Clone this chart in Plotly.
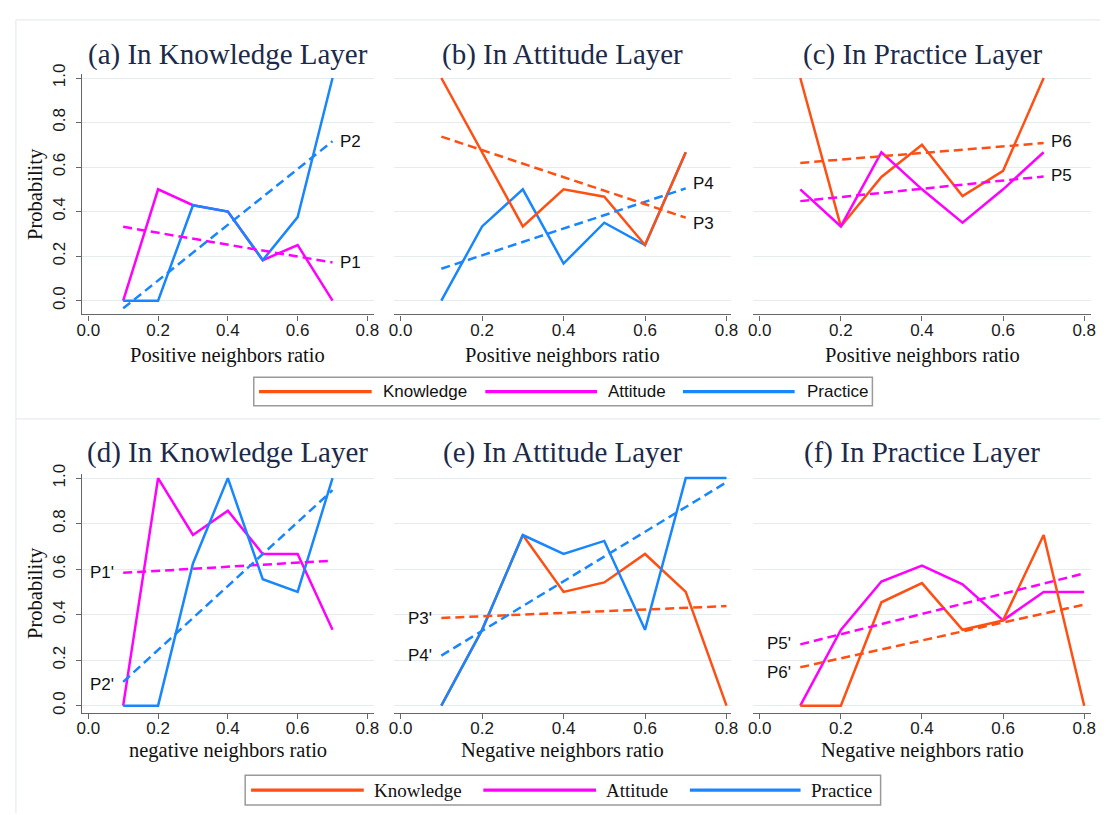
import numpy as np
import plotly.graph_objects as go

W, H = 1107, 815

# ---- data -------------------------------------------------------------
ratio_7 = [0.1, 0.2, 0.3, 0.4, 0.5, 0.6, 0.7]
ratio_8 = [0.1, 0.2, 0.3, 0.4, 0.5, 0.6, 0.7, 0.8]

# (a) knowledge layer, positive neighbours
att_a = [0.0, 0.5, 0.4286, 0.4, 0.1818, 0.25, 0.0]
prac_a = [0.0, 0.0, 0.4286, 0.4, 0.1818, 0.375, 1.0]
# (b) attitude layer, positive neighbours
know_b = [1.0, 0.6667, 0.3333, 0.5, 0.4667, 0.25, 0.6667]
prac_b = [0.0, 0.3333, 0.5, 0.1667, 0.35, 0.25, 0.6667]
# (c) practice layer, positive neighbours
know_c = [1.0, 0.3333, 0.5556, 0.7, 0.47, 0.5833, 1.0]
att_c = [0.5, 0.3333, 0.6667, 0.5, 0.35, 0.5, 0.6667]
# (d) knowledge layer, negative neighbours
att_d = [0.0, 1.0, 0.75, 0.8571, 0.6667, 0.6667, 0.3333]
prac_d = [0.0, 0.0, 0.625, 1.0, 0.5556, 0.5, 1.0]
# (e) attitude layer, negative neighbours
know_e = [0.0, 0.3333, 0.75, 0.5, 0.5417, 0.6667, 0.5, 0.0]
prac_e = [0.0, 0.3333, 0.75, 0.6667, 0.724, 0.3333, 1.0, 1.0]
# (f) practice layer, negative neighbours
know_f = [0.0, 0.0, 0.4545, 0.5385, 0.3333, 0.375, 0.75, 0.0]
att_f = [0.0, 0.3333, 0.5455, 0.6154, 0.5333, 0.375, 0.5, 0.5]

x_ticks = [0.0, 0.2, 0.4, 0.6, 0.8]
y_ticks = [0.0, 0.2, 0.4, 0.6, 0.8, 1.0]
legend_names = ["Knowledge", "Attitude", "Practice"]

# ---- styling ----------------------------------------------------------
ORANGE = "#FF4F12"
MAGENTA = "#FF00FF"
BLUE = "#1886FF"
COLORS = {"Knowledge": ORANGE, "Attitude": MAGENTA, "Practice": BLUE}
SERIF = "Liberation Serif"
SANS = "Liberation Sans"
TITLE_COLOR = "#1c2a4a"
GRID = "#e4ecee"
AXIS = "#666666"
DASH = "9px,5px"


def px_x(p):
    return p / W


def px_y(p):
    return 1 - p / H


# each panel: title, x label, pixel box, value ranges, series in drawing
# order, and fit-line labels (name -> (label, yshift))
panels = [
    dict(title="(a) In Knowledge Layer", xlab="Positive neighbors ratio",
         box=(77, 372, 309, 64.5), xr=(-0.0178, 0.8178), yr=(-0.062, 1.02),
         x=ratio_7, series=[("Attitude", att_a), ("Practice", prac_a)],
         fits={"Attitude": ("P1", 0), "Practice": ("P2", 0)}, side="right", yaxis=True),
    dict(title="(b) In Attitude Layer", xlab="Positive neighbors ratio",
         box=(393, 734, 309, 64.5), xr=(-0.0153, 0.812), yr=(-0.062, 1.02),
         x=ratio_7, series=[("Practice", prac_b), ("Knowledge", know_b)],
         fits={"Knowledge": ("P3", -6), "Practice": ("P4", 5)}, side="right", yaxis=False),
    dict(title="(c) In Practice Layer", xlab="Positive neighbors ratio",
         box=(756, 1098, 309, 64.5), xr=(-0.0163, 0.817), yr=(-0.062, 1.02),
         x=ratio_7, series=[("Knowledge", know_c), ("Attitude", att_c)],
         fits={"Attitude": ("P5", 1), "Knowledge": ("P6", 2)}, side="right", yaxis=False),
    dict(title="(d) In Knowledge Layer", xlab="negative neighbors ratio",
         box=(77, 372, 713, 470.5), xr=(-0.0178, 0.8178), yr=(-0.03, 1.02),
         x=ratio_7, series=[("Attitude", att_d), ("Practice", prac_d)],
         fits={"Attitude": ("P1'", 0), "Practice": ("P2'", -3)}, side="left", yaxis=True),
    dict(title="(e) In Attitude Layer", xlab="Negative neighbors ratio",
         box=(393, 734, 713, 470.5), xr=(-0.0153, 0.812), yr=(-0.03, 1.02),
         x=ratio_8, series=[("Knowledge", know_e), ("Practice", prac_e)],
         fits={"Knowledge": ("P3'", -1), "Practice": ("P4'", 0)}, side="left", yaxis=False),
    dict(title="(f) In Practice Layer", xlab="Negative neighbors ratio",
         box=(756, 1098, 713, 470.5), xr=(-0.0163, 0.817), yr=(-0.03, 1.02),
         x=ratio_8, series=[("Attitude", att_f), ("Knowledge", know_f)],
         fits={"Attitude": ("P5'", 1), "Knowledge": ("P6'", -5)}, side="left", yaxis=False),
]

fig = go.Figure()
annotations = []
shapes = []
layout = {}

for i, p in enumerate(panels, start=1):
    xa, ya = f"x{i}", f"y{i}"
    x0, x1, yb, yt = p["box"]
    xs = np.array(p["x"])

    # observed probabilities
    for name, ys in p["series"]:
        fig.add_trace(go.Scatter(
            x=xs, y=ys, mode="lines", xaxis=xa, yaxis=ya, showlegend=False,
            line=dict(color=COLORS[name], width=2.5), name=name,
            hoverinfo="skip"))

    # least-squares trend of each series, dashed
    for name, ys in p["series"]:
        slope, icpt = np.polyfit(xs, np.array(ys), 1)
        fx = np.array([xs[0], xs[-1]])
        fy = slope * fx + icpt
        fig.add_trace(go.Scatter(
            x=fx, y=fy, mode="lines", xaxis=xa, yaxis=ya, showlegend=False,
            line=dict(color=COLORS[name], width=2.5, dash=DASH),
            hoverinfo="skip"))
        label, ysh = p["fits"][name]
        if p["side"] == "right":
            annotations.append(dict(
                x=fx[-1], y=fy[-1], xref=xa, yref=ya, text=label,
                showarrow=False, xanchor="left", yanchor="middle",
                xshift=5, yshift=ysh,
                font=dict(family=SANS, size=17, color="#111111")))
        else:
            annotations.append(dict(
                x=fx[0], y=fy[0], xref=xa, yref=ya, text=label,
                showarrow=False, xanchor="right", yanchor="middle",
                xshift=-7, yshift=ysh,
                font=dict(family=SANS, size=17, color="#111111")))

    key = "" if i == 1 else str(i)
    layout[f"xaxis{key}"] = dict(
        domain=[px_x(x0), px_x(x1)], range=list(p["xr"]), anchor=ya,
        tickvals=x_ticks, ticktext=[f"{v:.1f}" for v in x_ticks],
        showgrid=False, zeroline=False, showline=True, linecolor=AXIS,
        linewidth=1.2, ticks="outside", ticklen=5, tickcolor=AXIS,
        tickwidth=1.2, ticklabelstandoff=-5,
        tickfont=dict(family=SANS, size=17, color="#1a1a1a"))
    layout[f"yaxis{key}"] = dict(
        domain=[px_y(yb), px_y(yt)], range=list(p["yr"]), anchor=xa,
        tickvals=y_ticks, ticktext=[f"{v:.1f}" for v in y_ticks],
        showgrid=True, gridcolor=GRID, gridwidth=1.2, zeroline=False,
        showline=p["yaxis"], linecolor=AXIS, linewidth=1.2,
        ticks="outside" if p["yaxis"] else "", ticklen=5, tickcolor=AXIS,
        tickwidth=1.2, showticklabels=p["yaxis"], tickangle=-90,
        ticklabelstandoff=4,
        tickfont=dict(family=SANS, size=17, color="#1a1a1a"))

    cx = (x0 + x1) / 2
    top_row = i <= 3
    annotations.append(dict(
        x=px_x(cx), y=px_y(45 if top_row else 449), xref="paper", yref="paper",
        text=p["title"], showarrow=False, xanchor="center", yanchor="middle",
        font=dict(family=SERIF, size=29, color=TITLE_COLOR)))
    annotations.append(dict(
        x=px_x(cx), y=px_y(351 if top_row else 752), xref="paper", yref="paper",
        text=p["xlab"], showarrow=False, xanchor="center", yanchor="middle",
        font=dict(family=SERIF, size=20.5, color="#111111")))
    if p["yaxis"]:
        annotations.append(dict(
            x=px_x(30), y=px_y(187 if top_row else 592), xref="paper", yref="paper",
            text="Probability", showarrow=False, textangle=-90,
            xanchor="center", yanchor="middle",
            font=dict(family=SERIF, size=20.5, color="#111111")))

# ---- legends (one under each row) ------------------------------------
legend_rows = [
    dict(box=(250.7, 372.7, 876.7, 401.7), ly=387.3,
         lines=[(256, 370), (485, 598), (685, 798)], tx=[379, 606.7, 808],
         font=dict(family=SANS, size=17, color="#111111")),
    dict(box=(242, 776.7, 885, 807), ly=791.7,
         lines=[(248, 362), (483, 597), (692, 804)], tx=[370, 605, 813],
         font=dict(family=SERIF, size=19, color="#111111")),
]
for lg in legend_rows:
    bx0, by0, bx1, by1 = lg["box"]
    shapes.append(dict(type="rect", xref="paper", yref="paper",
                       x0=px_x(bx0), x1=px_x(bx1), y0=px_y(by0), y1=px_y(by1),
                       line=dict(color="#9a9a9a", width=1.5), fillcolor="white"))
    for name, (lx0, lx1), tx in zip(legend_names, lg["lines"], lg["tx"]):
        shapes.append(dict(type="line", xref="paper", yref="paper",
                           x0=px_x(lx0), x1=px_x(lx1), y0=px_y(lg["ly"]), y1=px_y(lg["ly"]),
                           line=dict(color=COLORS[name], width=3.2)))
        annotations.append(dict(
            x=px_x(tx), y=px_y(lg["ly"]), xref="paper", yref="paper", text=name,
            showarrow=False, xanchor="left", yanchor="middle", font=lg["font"]))

# faint frames around the two rows
FRAME = "#e6ecef"
for (a0, b0, a1, b1) in [(10, 10, W, 10), (10, 10, 10, H), (10, 415, W, 415)]:
    shapes.append(dict(type="line", xref="paper", yref="paper",
                       x0=px_x(a0), x1=px_x(a1), y0=px_y(b0), y1=px_y(b1),
                       line=dict(color=FRAME, width=1.2)))

fig.update_layout(
    width=W, height=H, margin=dict(l=0, r=0, t=0, b=0),
    paper_bgcolor="white", plot_bgcolor="white", showlegend=False,
    annotations=annotations, shapes=shapes, **layout)

fig.write_html("out.html")
